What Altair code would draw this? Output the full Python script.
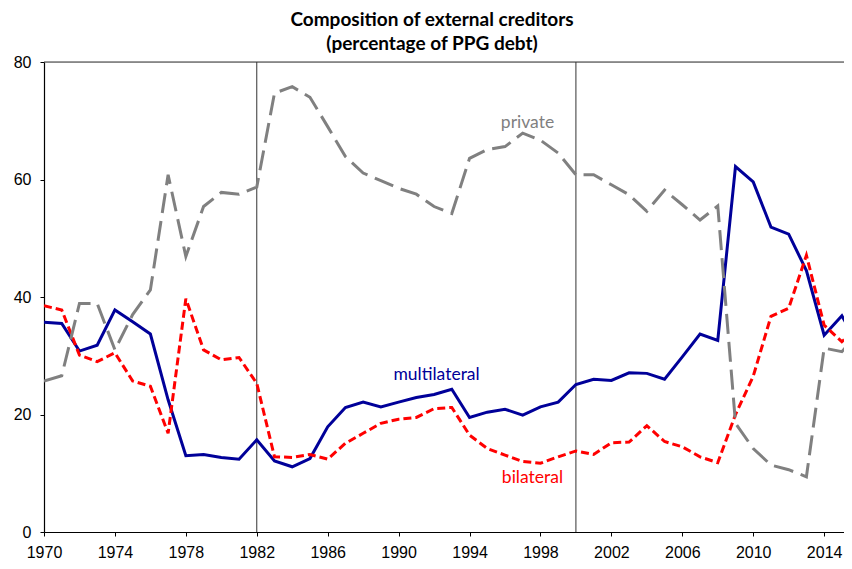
import altair as alt
import pandas as pd

years = list(range(1970, 2017))

multilateral = [35.7, 35.5, 30.8, 31.8, 37.8, 35.8, 33.7, 22.5, 13.0, 13.2,
                12.7, 12.4, 15.7, 12.1, 11.1, 12.5, 17.9, 21.2, 22.1, 21.3,
                22.1, 22.9, 23.4, 24.3, 19.5, 20.4, 20.9, 19.9, 21.3, 22.1,
                25.1, 26.0, 25.8, 27.1, 27.0, 26.0, 29.8, 33.7, 32.6, 62.2,
                59.6, 51.9, 50.7, 44.5, 33.5, 36.8, 31.5]

bilateral = [38.5, 37.8, 30.1, 29.0, 30.5, 25.7, 24.8, 16.8, 39.7, 31.0,
             29.3, 29.7, 25.3, 12.8, 12.7, 13.2, 12.4, 15.1, 16.8, 18.5,
             19.2, 19.5, 21.0, 21.2, 16.5, 14.2, 13.1, 12.0, 11.7, 12.8,
             13.8, 13.2, 15.2, 15.3, 18.1, 15.4, 14.5, 12.8, 11.8, 20.0,
             26.5, 36.7, 38.1, 47.1, 35.2, 32.4, 35.0]

private = [25.7, 26.6, 38.9, 38.9, 31.0, 37.0, 41.2, 60.8, 46.9, 55.4,
           57.8, 57.5, 58.7, 74.7, 75.8, 74.0, 69.0, 63.9, 61.1, 59.8,
           58.5, 57.5, 55.4, 54.2, 63.6, 65.1, 65.6, 67.9, 66.7, 64.5,
           60.8, 60.8, 59.1, 57.4, 54.6, 58.2, 55.7, 53.1, 55.5, 18.5,
           14.2, 11.4, 10.6, 9.4, 31.3, 30.7, 34.0]

tick_years = list(range(1970, 2015, 4))
y_ticks = [0, 20, 40, 60, 80]
period_breaks = [1982, 2000]

title_lines = ["Composition of external creditors", "(percentage of PPG debt)"]

df = pd.DataFrame({
    "year": years * 3,
    "value": multilateral + bilateral + private,
    "series": ["multilateral"] * len(years) + ["bilateral"] * len(years) + ["private"] * len(years),
})

AXIS_FONT = "Liberation Sans"
TEXT_FONT = "Lato"

x_enc = alt.X(
    "year:Q",
    scale=alt.Scale(domain=[1970, 2015.12], nice=False, zero=False),
    axis=alt.Axis(values=tick_years, format="d", title=None, grid=False,
                  tickSize=4, labelPadding=8, domainColor="black", tickColor="black",
                  labelFont=AXIS_FONT, labelFontSize=16, labelColor="black",
                  labelFlush=False, labelOverlap=False, domainWidth=1.2, tickWidth=1),
)
y_enc = alt.Y(
    "value:Q",
    scale=alt.Scale(domain=[0, 80], nice=False),
    axis=alt.Axis(values=y_ticks, title=None, grid=False, tickSize=4, labelPadding=9,
                  domainColor="black", tickColor="black", labelFont=AXIS_FONT,
                  labelFontSize=16, labelColor="black", domainWidth=1.2, tickWidth=1),
)

base = alt.Chart(df)

rules = alt.Chart(pd.DataFrame({"year": period_breaks})).mark_rule(
    color="#333333", strokeWidth=1
).encode(x=alt.X("year:Q"))

top_rule = alt.Chart(pd.DataFrame({"v": [80]})).mark_rule(
    color="#333333", strokeWidth=1
).encode(y=alt.Y("v:Q"))

line_multi = base.transform_filter(alt.datum.series == "multilateral").mark_line(
    color="#000099", strokeWidth=3, clip=True
).encode(x=x_enc, y=y_enc)

line_bi = base.transform_filter(alt.datum.series == "bilateral").mark_line(
    color="#FF0000", strokeWidth=3, strokeDash=[8, 4], clip=True
).encode(x=x_enc, y=y_enc)

line_priv = base.transform_filter(alt.datum.series == "private").mark_line(
    color="#808080", strokeWidth=3, strokeDash=[20, 8], clip=True
).encode(x=x_enc, y=y_enc)

def label(text, xv, yv, color):
    return alt.Chart(pd.DataFrame({"t": [text]})).mark_text(
        font=TEXT_FONT, fontSize=17.5, color=color, align="center", baseline="middle"
    ).encode(text="t:N", x=alt.datum(xv), y=alt.datum(yv))

lab_multi = label("multilateral", 1992.14, 26.8, "#000099")
lab_priv = label("private", 1997.27, 69.6, "#808080")
lab_bi = label("bilateral", 1997.55, 9.2, "#FF0000")

chart = alt.layer(
    rules, top_rule, line_multi, line_bi, line_priv, lab_multi, lab_priv, lab_bi
).properties(
    width=800,
    height=470,
    title=alt.TitleParams(title_lines, font=TEXT_FONT, fontSize=19, fontWeight="bold",
                          anchor="middle", dx=-12, offset=0, lineHeight=24, color="black"),
    autosize=alt.AutoSizeParams(type="none"),
    padding={"left": 36, "top": 54, "right": 0, "bottom": 29},
).configure_view(stroke=None).configure(background="white")

chart.save("out.html", embed_options={"renderer": "svg", "actions": False})
